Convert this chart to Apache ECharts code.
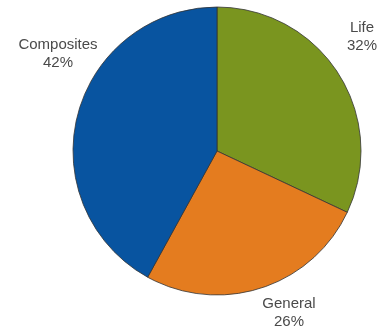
<!DOCTYPE html>
<html><head><meta charset="utf-8">
<script src="https://cdn.jsdelivr.net/npm/echarts@6/dist/echarts.min.js"></script>
<style>html,body{margin:0;padding:0;background:#fff}#c{width:381px;height:331px}</style>
</head><body><div id="c"></div>
<script>
const categories = ['Life', 'General', 'Composites'];
const values = [32, 26, 42];
const colors = ['#7a951f', '#e47c1f', '#0854a0'];
const labelPos = {
  'Life': [362, 37],
  'General': [289, 313],
  'Composites': [58, 54]
};
const chart = echarts.init(document.getElementById('c'));
chart.setOption({
  animation: false,
  series: [{
    type: 'pie',
    center: [217, 151],
    radius: 144,
    startAngle: 90,
    clockwise: true,
    data: categories.map((c, i) => ({ name: c, value: values[i], itemStyle: { color: colors[i] } })),
    itemStyle: { borderColor: '#333', borderWidth: 0.8 },
    label: {
      show: true, position: 'outside',
      formatter: p => p.name + '\n' + p.value + '%',
      fontFamily: 'Liberation Sans', fontSize: 15, color: '#4a4a4a', lineHeight: 18,
      align: 'center', overflow: 'none', width: 120
    },
    labelLine: { show: false },
    labelLayout: function (p) {
      const lp = labelPos[categories[p.dataIndex]];
      return { x: lp[0], y: lp[1], align: 'center', verticalAlign: 'middle', hideOverlap: false, moveOverlap: null };
    }
  }]
});
</script></body></html>
